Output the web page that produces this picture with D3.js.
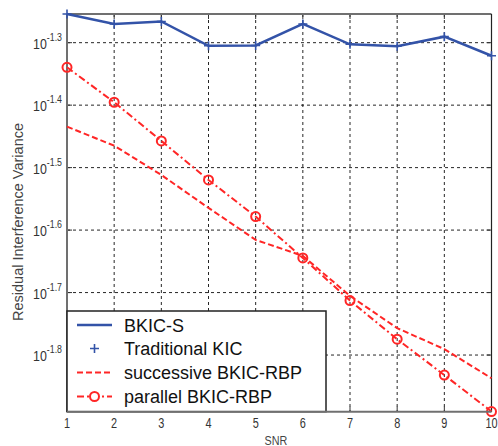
<!DOCTYPE html>
<html><head><meta charset="utf-8">
<script src="https://cdn.jsdelivr.net/npm/d3@7"></script>
<style>body{margin:0;background:#fff}svg{display:block}</style>
</head><body>
<svg id="c" width="498" height="446"></svg>
<script>
const snr = [1,2,3,4,5,6,7,8,9,10];
const bkicS = [0.05572,0.05370,0.05420,0.04955,0.04960,0.05370,0.04982,0.04945,0.05124,0.04776];
const successive = [0.03678,0.03429,0.03078,0.02726,0.02423,0.02284,0.01971,0.01750,0.01620,0.01455];
const parallel = [0.04577,0.04024,0.03489,0.03022,0.02640,0.02267,0.01937,0.01680,0.01472,0.01287];
const yTickExps = ["-1.3","-1.4","-1.5","-1.6","-1.7","-1.8"];
const legendLabels = ["BKIC-S","Traditional KIC","successive BKIC-RBP","parallel BKIC-RBP"];
const yDomain = [Math.pow(10,-1.8907), Math.pow(10,-1.2541)];

const svg = d3.select("#c");
const L=67, R=491.5, T=14, B=411.7;
const x = d3.scaleLinear().domain([1,10]).range([L,R]);
const y = d3.scaleLog().domain(yDomain).range([B,T]);
const font = "Liberation Sans, Arial, sans-serif";

// grid
const g = svg.append("g");
g.selectAll(".vg").data(snr.slice(1,-1)).enter().append("line")
  .attr("x1",d=>x(d)).attr("x2",d=>x(d)).attr("y1",T).attr("y2",B)
  .attr("stroke","#000").attr("stroke-width",1).attr("stroke-dasharray","3,3").attr("opacity",0.85);
g.selectAll(".hg").data(yTickExps).enter().append("line")
  .attr("x1",L).attr("x2",R).attr("y1",d=>y(Math.pow(10,+d))).attr("y2",d=>y(Math.pow(10,+d)))
  .attr("stroke","#000").attr("stroke-width",1).attr("stroke-dasharray","3,3").attr("opacity",0.85);

// ticks inward
const tl=5;
snr.forEach(d=>{
  g.append("line").attr("x1",x(d)).attr("x2",x(d)).attr("y1",B).attr("y2",B-tl).attr("stroke","#333");
  g.append("line").attr("x1",x(d)).attr("x2",x(d)).attr("y1",T).attr("y2",T+tl).attr("stroke","#333");
});
yTickExps.forEach(d=>{
  const yy=y(Math.pow(10,+d));
  g.append("line").attr("x1",L).attr("x2",L+tl).attr("y1",yy).attr("y2",yy).attr("stroke","#333");
  g.append("line").attr("x1",R).attr("x2",R-tl).attr("y1",yy).attr("y2",yy).attr("stroke","#333");
});

// axis box
svg.append("line").attr("x1",L).attr("x2",R).attr("y1",T).attr("y2",T).attr("stroke","#707070").attr("stroke-width",2);
svg.append("line").attr("x1",L).attr("x2",L).attr("y1",T).attr("y2",B).attr("stroke","#707070").attr("stroke-width",2);
svg.append("line").attr("x1",R).attr("x2",R).attr("y1",T).attr("y2",B).attr("stroke","#222").attr("stroke-width",1.2);

// tick labels
const xt = svg.append("g");
snr.forEach(d=>{
  xt.append("text").attr("x",x(d)).attr("y",428.5).attr("text-anchor","middle")
    .attr("font-family",font).attr("font-size",14).attr("fill","#333")
    .attr("transform",`translate(${x(d)},0) scale(0.78,1) translate(${-x(d)},0)`).text(d);
});
yTickExps.forEach(d=>{
  const yy=y(Math.pow(10,+d));
  const t = svg.append("text").attr("x",62).attr("y",yy+6).attr("text-anchor","end")
    .attr("font-family",font).attr("fill","#333")
    .attr("transform",`translate(62,0) scale(0.8,1) translate(-62,0)`);
  t.append("tspan").attr("font-size",15.5).text("10");
  t.append("tspan").attr("font-size",11).attr("dy",-8).text(d);
});
svg.append("text").attr("x",276).attr("y",445).attr("text-anchor","middle")
  .attr("font-family",font).attr("font-size",12).attr("fill","#444")
  .attr("transform","translate(276,0) scale(0.9,1) translate(-276,0)").text("SNR");
svg.append("text").attr("transform","translate(23,222) rotate(-90)").attr("text-anchor","middle")
  .attr("font-family",font).attr("font-size",14.5).attr("fill","#444").text("Residual Interference Variance");

// series
const blue="#3353a8", red="#ff2626";
const line = d3.line().x((d,i)=>x(snr[i])).y(d=>y(d));
svg.append("path").attr("d",line(bkicS)).attr("fill","none").attr("stroke",blue).attr("stroke-width",2.5);
svg.selectAll(".plus").data(bkicS).enter().append("path")
  .attr("d",(d,i)=>{const cx=x(snr[i]),cy=y(d),s=4.5;return `M${cx-s},${cy}H${cx+s}M${cx},${cy-s}V${cy+s}`;})
  .attr("stroke",blue).attr("stroke-width",1.6);
svg.append("path").attr("d",line(successive)).attr("fill","none").attr("stroke",red).attr("stroke-width",2).attr("stroke-dasharray","6,3");
svg.append("path").attr("d",line(parallel)).attr("fill","none").attr("stroke",red).attr("stroke-width",2).attr("stroke-dasharray","7,3,2,3");
svg.selectAll(".circ").data(parallel).enter().append("circle")
  .attr("cx",(d,i)=>x(snr[i])).attr("cy",d=>y(d)).attr("r",4.5)
  .attr("fill","none").attr("stroke",red).attr("stroke-width",2);

// legend
const lg = svg.append("g");
lg.append("rect").attr("x",L).attr("y",311).attr("width",259).attr("height",B-311)
  .attr("fill","#fff").attr("stroke","#222").attr("stroke-width",1.5);
const ly=[325,348.5,372.5,396.5];
const lx1=77, lx2=112;
lg.append("line").attr("x1",lx1).attr("x2",lx2).attr("y1",ly[0]).attr("y2",ly[0]).attr("stroke",blue).attr("stroke-width",2.5);
lg.append("path").attr("d",`M${(lx1+lx2)/2-4.5},${ly[1]}H${(lx1+lx2)/2+4.5}M${(lx1+lx2)/2},${ly[1]-4.5}V${ly[1]+4.5}`).attr("stroke",blue).attr("stroke-width",1.6);
lg.append("line").attr("x1",lx1).attr("x2",lx2).attr("y1",ly[2]).attr("y2",ly[2]).attr("stroke",red).attr("stroke-width",2).attr("stroke-dasharray","6,3");
lg.append("line").attr("x1",lx1).attr("x2",lx2).attr("y1",ly[3]).attr("y2",ly[3]).attr("stroke",red).attr("stroke-width",2).attr("stroke-dasharray","7,3,2,3");
lg.append("circle").attr("cx",(lx1+lx2)/2).attr("cy",ly[3]).attr("r",4.5).attr("fill","#fff").attr("stroke",red).attr("stroke-width",2);
legendLabels.forEach((t,i)=>{
  lg.append("text").attr("x",124).attr("y",ly[i]+6.5).attr("font-family",font).attr("font-size",18).attr("fill","#111").text(t);
});

// bottom axis (on top of legend)
svg.append("line").attr("x1",L).attr("x2",R).attr("y1",B).attr("y2",B).attr("stroke","#707070").attr("stroke-width",2);
</script>
</body></html>
